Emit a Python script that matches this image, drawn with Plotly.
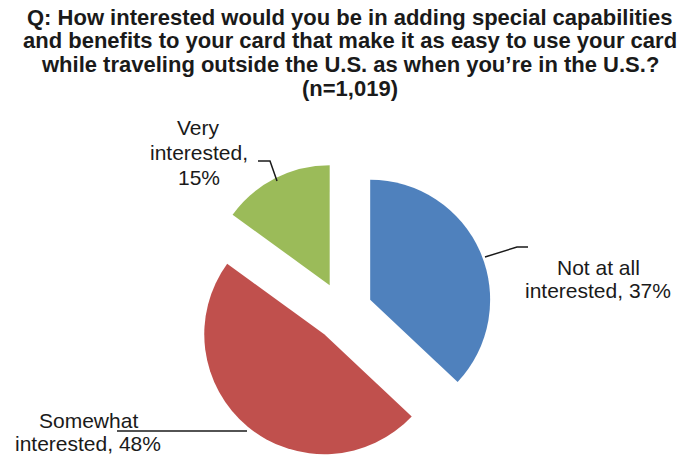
import plotly.graph_objects as go

categories = ["Not at all interested", "Somewhat interested", "Very interested"]
values = [37, 48, 15]
colors = ["#4F81BD", "#C0504D", "#9BBB59"]
title_lines = [
    "Q: How interested would you be in adding special capabilities",
    "and benefits to your card that make it as easy to use your card",
    "while traveling outside the U.S. as when you\u2019re in the U.S.?",
    "(n=1,019)",
]

W, H = 678, 461

def px(x):
    return x / W

def py(y):
    return 1 - y / H

fig = go.Figure()
fig.add_trace(go.Pie(
    labels=categories,
    values=values,
    sort=False,
    direction="clockwise",
    rotation=0,
    pull=[0.246, 0.246, 0.246],
    marker=dict(colors=colors, line=dict(width=0)),
    textinfo="none",
    hoverinfo="label+percent",
    domain=dict(x=[0.2, 0.812], y=[0, 0.6486]),
    showlegend=False,
))

FONT = "Liberation Sans, Arial, sans-serif"
label_font = dict(family=FONT, size=21, color="#1a1a1a")
title_font = dict(family=FONT, size=22, color="#1a1a1a")

def text_lines(lines, cx, y0, step, font, bold=False):
    for i, line in enumerate(lines):
        t = f"<b>{line}</b>" if bold else line
        fig.add_annotation(x=px(cx), y=py(y0 + i * step), xref="paper", yref="paper",
                           xanchor="center", yanchor="middle", showarrow=False,
                           text=t, font=font)

text_lines(title_lines, 350, 17, 23.8, title_font, bold=True)
text_lines(["Very", "interested,", f"{values[2]}%"], 199, 128, 24.5, label_font)
text_lines(["Not at all", f"interested, {values[0]}%"], 598, 267, 23, label_font)
text_lines(["Somewhat", f"interested, {values[1]}%"], 88, 420, 23, label_font)

def leader(pts):
    d = "M " + " L ".join(f"{px(a)},{py(b)}" for a, b in pts)
    fig.add_shape(type="path", path=d, xref="paper", yref="paper",
                  line=dict(color="#1a1a1a", width=1.5))

leader([(258, 161), (270, 161), (277, 181)])
leader([(485, 257), (517, 247), (528, 247)])
leader([(117, 431), (247, 431)])

fig.update_layout(
    width=W, height=H,
    margin=dict(l=0, r=0, t=0, b=0),
    paper_bgcolor="white", plot_bgcolor="white",
)
fig.write_html("out.html")
